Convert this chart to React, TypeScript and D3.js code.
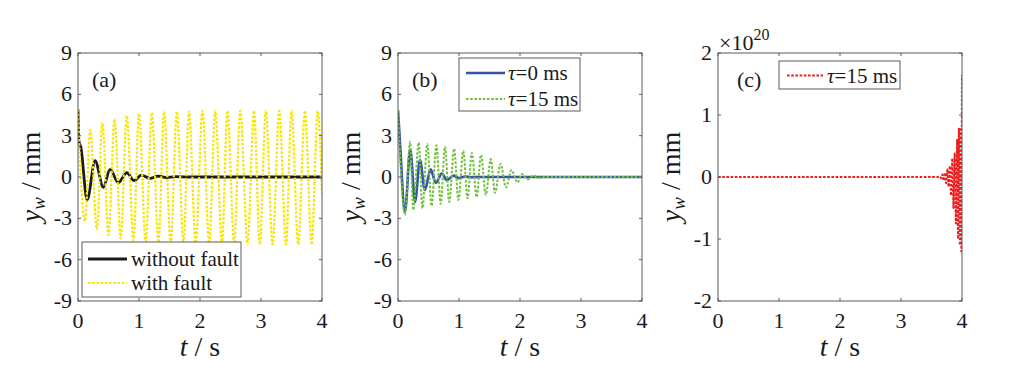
import React from 'react';
import * as d3 from 'd3';

// ---------- data (t in s, y_w in mm) ----------
// Panel (a): without fault (extrema points)
const noFault: [number, number][] = [
  [0, 4.9], [0.015, 2.6], [0.045, 2.2], [0.15, -1.67], [0.28, 1.18], [0.415, -0.75],
  [0.525, 0.55], [0.66, -0.41], [0.8, 0.31], [0.92, -0.27], [1.04, 0.14], [1.18, -0.1],
  [1.32, 0.07], [1.45, -0.04], [1.6, 0.02], [1.8, 0], [4.0, 0],
];
// Panel (a): with fault (extrema points)
const withFault: [number, number][] = [
  [0, 4.9], [0.02, 2.5], [0.115, -3.2], [0.2, 3.4], [0.31, -3.8], [0.4, 3.95], [0.5, -4.2],
  [0.6, 4.2], [0.7, -4.45], [0.8, 4.45], [0.91, -4.6], [1.0, 4.6], [1.11, -4.7], [1.21, 4.65],
  [1.32, -4.75], [1.41, 4.73], [1.52, -4.8], [1.62, 4.75], [1.73, -4.8], [1.82, 4.75],
  [1.93, -4.8], [2.04, 4.8], [2.15, -4.8], [2.25, 4.8], [2.36, -4.85], [2.45, 4.8],
  [2.56, -4.85], [2.66, 4.8], [2.78, -4.85], [2.885, 4.8], [2.98, -4.9], [3.08, 4.8],
  [3.19, -4.9], [3.3, 4.8], [3.41, -4.9], [3.5, 4.8], [3.61, -4.9], [3.72, 4.8],
  [3.83, -4.9], [3.93, 4.8], [4.0, -1.2],
];
// Panel (b): tau = 0 ms
const tau0: [number, number][] = [
  [0, 4.85], [0.03, 2.68], [0.115, -2.5], [0.2, 2.0], [0.28, -1.8], [0.36, 1.25],
  [0.44, -0.94], [0.535, 0.55], [0.62, -0.42], [0.72, 0.25], [0.8, -0.22], [0.91, 0.1],
  [1.0, -0.08], [1.1, 0.04], [1.2, -0.02], [1.3, 0], [4.0, 0],
];
// Panel (b): tau = 15 ms
const tau15: [number, number][] = [
  [0, 4.85], [0.02, 2.85], [0.115, -2.75], [0.197, 2.56], [0.25, -2.4], [0.34, 2.5],
  [0.4, -2.27], [0.48, 2.4], [0.55, -2.1], [0.63, 2.3], [0.7, -1.95], [0.77, 2.2],
  [0.84, -1.8], [0.92, 2.05], [0.99, -1.67], [1.07, 1.9], [1.14, -1.55], [1.21, 1.75],
  [1.29, -1.45], [1.36, 1.6], [1.44, -1.3], [1.52, 1.3], [1.59, -1.15], [1.68, 0.95],
  [1.77, -0.75], [1.86, 0.5], [1.96, -0.4], [2.03, 0.22], [2.12, -0.17], [2.22, 0.1],
  [2.3, -0.05], [2.4, 0], [4.0, 0],
];
// Panel (c): tau = 15 ms (values in units of 1e20 mm)
const tau15Long: [number, number][] = [
  [0, 0], [3.6, 0], [3.64, 0.01], [3.66, -0.02], [3.68, 0.04], [3.7, -0.06], [3.72, 0.07],
  [3.74, -0.1], [3.76, 0.12], [3.78, -0.16], [3.8, 0.18], [3.82, -0.3], [3.84, 0.3],
  [3.86, -0.5], [3.88, 0.38], [3.9, -0.75], [3.92, 0.6], [3.935, -1.0], [3.95, 0.78],
  [3.965, -1.1], [3.98, 0.8], [3.99, -1.2], [4.0, 1.65],
];

const xTicks = [0, 1, 2, 3, 4];
const yTicksAB = [-9, -6, -3, 0, 3, 6, 9];
const yTicksC = [-2, -1, 0, 1, 2];

// ---------- styles ----------
const FONT = "'Liberation Serif', 'Times New Roman', Times, serif";
const TXT = '#1a1a1a';
const FRAME = '#5a5a5a';
const TOP = 53;
const BOTTOM = 301;
const DOT = '2.6,1.6';
const fs = (size: number): React.CSSProperties => ({ fontFamily: FONT, fontSize: `${size}px` });

type Series = { data: [number, number][]; color: string; width: number; dash?: string; curve: any; label: React.ReactNode };

function Panel(props: {
  left: number; right: number; id: string; yDomain: [number, number]; yTicks: number[];
  series: Series[]; tag: string; tagX: number;
  legend: { x: number; y: number; w: number; h: number; rowY: number[]; lineX0: number; lineX1: number; textX: number };
}) {
  const { left, right, id, yDomain, yTicks, series, tag, tagX, legend } = props;
  const x = d3.scaleLinear().domain([0, 4]).range([left, right]);
  const y = d3.scaleLinear().domain(yDomain).range([BOTTOM, TOP]);
  const tl = 3;
  return (
    <g>
      <defs>
        <clipPath id={`clip-${id}`}>
          <rect x={left} y={TOP} width={right - left} height={BOTTOM - TOP} />
        </clipPath>
      </defs>
      <g clipPath={`url(#clip-${id})`}>
        {series.map((s, i) => {
          const line = d3.line<[number, number]>().x(d => x(d[0])).y(d => y(d[1])).curve(s.curve);
          return (
            <path key={i} d={line(s.data) || ''} fill="none" stroke={s.color} strokeWidth={s.width}
              strokeDasharray={s.dash} strokeLinejoin="round" />
          );
        })}
      </g>
      <rect x={left} y={TOP} width={right - left} height={BOTTOM - TOP} fill="none" stroke={FRAME} strokeWidth={1} />
      {xTicks.map(t => (
        <g key={`xt${t}`}>
          <line x1={x(t)} x2={x(t)} y1={BOTTOM} y2={BOTTOM - tl} stroke={FRAME} />
          <line x1={x(t)} x2={x(t)} y1={TOP} y2={TOP + tl} stroke={FRAME} />
          <text x={x(t)} y={BOTTOM + 27} textAnchor="middle" style={fs(22)} fill={TXT}>{t}</text>
        </g>
      ))}
      {yTicks.map(t => (
        <g key={`yt${t}`}>
          <line x1={left} x2={left + tl} y1={y(t)} y2={y(t)} stroke={FRAME} />
          <line x1={right} x2={right - tl} y1={y(t)} y2={y(t)} stroke={FRAME} />
          <text x={left - 6} y={y(t) + 7} textAnchor="end" style={fs(22)} fill={TXT}>{t}</text>
        </g>
      ))}
      <text x={(left + right) / 2} y={356} textAnchor="middle" style={fs(28)} fill={TXT}>
        <tspan fontStyle="italic">t</tspan>
        <tspan> / s</tspan>
      </text>
      <text transform={`translate(${left - 38},${(TOP + BOTTOM) / 2}) rotate(-90)`} textAnchor="middle"
        style={fs(28)} fill={TXT}>
        <tspan fontStyle="italic">y</tspan>
        <tspan fontStyle="italic" style={{ fontSize: '19px' }} dy={5}>w</tspan>
        <tspan dy={-5}> / mm</tspan>
      </text>
      <text x={tagX} y={87} style={fs(22)} fill={TXT}>{tag}</text>
      <rect x={legend.x} y={legend.y} width={legend.w} height={legend.h} fill="#fff" stroke={FRAME} strokeWidth={1} />
      {series.map((s, i) => (
        <g key={`lg${i}`}>
          <line x1={legend.lineX0} x2={legend.lineX1} y1={legend.rowY[i]} y2={legend.rowY[i]}
            stroke={s.color} strokeWidth={s.width} strokeDasharray={s.dash} />
          <text x={legend.textX} y={legend.rowY[i] + 7} style={fs(21)} fill={TXT}>{s.label}</text>
        </g>
      ))}
    </g>
  );
}

export default function App() {
  const tauLabel = (v: string) => (
    <>
      <tspan fontStyle="italic">τ</tspan>
      <tspan>={v} ms</tspan>
    </>
  );
  return (
    <svg width={1012} height={378} style={{ position: 'absolute', left: 0, top: 0, background: '#fff' }}>
      <rect x={0} y={0} width={1012} height={378} fill="#fff" />
      <Panel
        id="a" left={78} right={322} yDomain={[-9, 9]} yTicks={yTicksAB} tag="(a)" tagX={92}
        series={[
          { data: noFault, color: '#1a1a1a', width: 2.8, curve: d3.curveMonotoneX, label: 'without fault' },
          { data: withFault, color: '#f6e600', width: 2.2, dash: DOT, curve: d3.curveMonotoneX, label: 'with fault' },
        ]}
        legend={{ x: 82, y: 242, w: 159, h: 55, rowY: [259, 283], lineX0: 88, lineX1: 127, textX: 131 }}
      />
      <Panel
        id="b" left={398} right={642} yDomain={[-9, 9]} yTicks={yTicksAB} tag="(b)" tagX={412}
        series={[
          { data: tau0, color: '#3352a8', width: 2.6, curve: d3.curveMonotoneX, label: tauLabel('0') },
          { data: tau15, color: '#72c03e', width: 2, dash: DOT, curve: d3.curveMonotoneX, label: tauLabel('15') },
        ]}
        legend={{ x: 459, y: 58, w: 121, h: 53, rowY: [73, 99], lineX0: 466, lineX1: 505, textX: 508 }}
      />
      <Panel
        id="c" left={718} right={962} yDomain={[-2, 2]} yTicks={yTicksC} tag="(c)" tagX={737}
        series={[
          { data: tau15Long, color: '#ee1c1c', width: 2, dash: DOT, curve: d3.curveLinear, label: tauLabel('15') },
        ]}
        legend={{ x: 779, y: 61, w: 121, h: 28, rowY: [75.5], lineX0: 787, lineX1: 823, textX: 827 }}
      />
      <text x={719} y={50} style={fs(22)} fill={TXT}>
        ×10<tspan style={{ fontSize: '16px' }} dy={-10}>20</tspan>
      </text>
    </svg>
  );
}
